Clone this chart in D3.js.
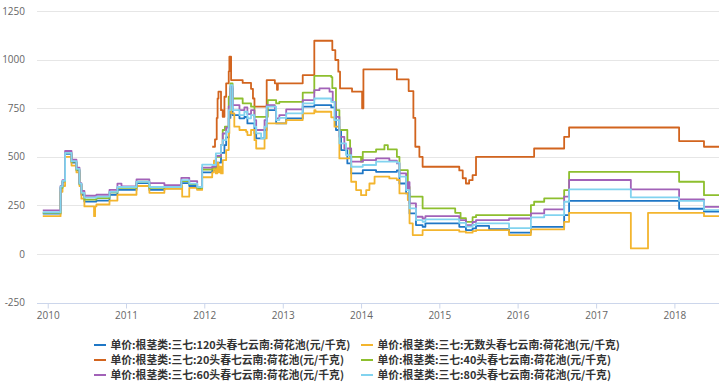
<!DOCTYPE html>
<html><head><meta charset="utf-8">
<script src="https://cdn.jsdelivr.net/npm/d3@7"></script>
<style>html,body{margin:0;padding:0;background:#fff;}svg{display:block;}</style>
</head><body>
<svg id="chart" width="719" height="383"></svg>
<script>
const seriesNames = [
  "单价:根茎类:三七:120头春七云南:荷花池(元/千克)",
  "单价:根茎类:三七:无数头春七云南:荷花池(元/千克)",
  "单价:根茎类:三七:20头春七云南:荷花池(元/千克)",
  "单价:根茎类:三七:40头春七云南:荷花池(元/千克)",
  "单价:根茎类:三七:60头春七云南:荷花池(元/千克)",
  "单价:根茎类:三七:80头春七云南:荷花池(元/千克)"
];
const seriesColors = ["#1f77c6","#f3b52e","#d2641e","#8dbf2e","#a262b8","#82d3ef"];
const yTicks = [-250,0,250,500,750,1000,1250];
const xTickYears = [2010,2011,2012,2013,2014,2015,2016,2017,2018];
const xDomain = ["2009-11-12","2018-07-28"];

const s120 = [["2009-12-09",208],["2010-03-02",345],["2010-03-11",372],["2010-03-23",515],["2010-04-22",470],["2010-05-15",430],["2010-05-29",360],["2010-06-07",305],["2010-06-21",270],["2010-08-16",275],["2010-10-16",305],["2010-11-22",330],["2011-02-19",365],["2011-04-20",330],["2011-06-29",338],["2011-09-16",365],["2011-10-23",350],["2011-11-29",335],["2011-12-22",420],["2012-02-07",430],["2012-02-24",470],["2012-03-19",520],["2012-04-04",560],["2012-04-12",600],["2012-04-24",700],["2012-05-02",852],["2012-05-12",715],["2012-06-13",698],["2012-07-06",705],["2012-07-20",672],["2012-08-22",621],["2012-08-30",595],["2012-10-08",638],["2012-10-18",740],["2012-12-01",672],["2013-01-17",698],["2013-04-04",758],["2013-05-28",766],["2013-08-15",754],["2013-09-06",638],["2013-09-30",535],["2013-10-29",466],["2013-11-16",415],["2014-01-09",432],["2014-03-12",423],["2014-06-17",430],["2014-06-29",363],["2014-07-30",312],["2014-08-15",209],["2014-09-14",149],["2014-10-15",140],["2014-10-28",158],["2015-04-04",140],["2015-05-05",123],["2015-06-05",132],["2015-06-21",145],["2015-08-21",128],["2015-11-22",110],["2016-03-03",140],["2016-08-05",200],["2016-08-28",274],["2018-01-23",233],["2018-05-19",218],["2018-07-28",218]];
const sWushu = [["2009-12-09",195],["2010-03-02",320],["2010-03-11",350],["2010-03-23",500],["2010-04-22",455],["2010-05-15",420],["2010-05-29",350],["2010-06-07",285],["2010-06-21",245],["2010-08-05",195],["2010-08-10",245],["2010-08-16",255],["2010-10-16",275],["2010-11-22",305],["2011-02-19",350],["2011-04-20",315],["2011-06-29",335],["2011-09-16",350],["2011-09-20",295],["2011-10-23",340],["2011-11-29",330],["2011-12-22",395],["2012-02-07",420],["2012-02-15",480],["2012-02-24",415],["2012-03-01",470],["2012-03-07",420],["2012-03-12",450],["2012-03-19",415],["2012-03-27",483],["2012-04-12",535],["2012-04-24",621],["2012-04-27",758],["2012-05-02",835],["2012-05-06",724],["2012-05-20",655],["2012-06-13",638],["2012-07-14",629],["2012-07-20",612],["2012-08-06",638],["2012-08-22",586],["2012-08-30",543],["2012-10-08",595],["2012-10-18",672],["2013-01-17",689],["2013-04-04",724],["2013-05-28",740],["2013-06-03",732],["2013-08-15",703],["2013-08-30",655],["2013-09-22",492],["2013-11-16",372],["2013-12-09",329],["2014-01-01",303],["2014-01-25",329],["2014-02-09",363],["2014-03-05",398],["2014-05-13",389],["2014-06-17",381],["2014-06-29",312],["2014-08-07",278],["2014-08-15",158],["2014-08-30",98],["2014-10-15",123],["2015-04-04",115],["2015-05-05",110],["2015-06-05",118],["2015-06-21",123],["2015-11-22",98],["2016-03-03",127],["2016-08-05",166],["2016-08-28",212],["2017-06-12",29],["2017-08-31",212],["2018-05-19",195],["2018-07-28",195]];
const s20 = [["2012-02-07",552],["2012-02-20",590],["2012-02-28",700],["2012-03-03",800],["2012-03-07",835],["2012-03-19",740],["2012-03-27",706],["2012-04-04",809],["2012-04-12",878],["2012-04-24",940],["2012-04-27",1015],["2012-05-05",895],["2012-06-28",880],["2012-08-06",850],["2012-08-15",800],["2012-08-22",758],["2012-10-18",895],["2012-11-25",878],["2012-12-05",845],["2012-12-09",878],["2013-04-04",920],["2013-05-28",1097],["2013-08-20",1049],["2013-09-03",998],["2013-09-17",938],["2013-09-25",852],["2013-11-20",835],["2014-01-06",750],["2014-01-12",950],["2014-06-17",898],["2014-08-11",838],["2014-09-02",700],["2014-09-11",552],["2014-09-30",500],["2014-10-15",449],["2015-04-04",430],["2015-04-20",390],["2015-05-05",363],["2015-05-20",380],["2015-06-05",406],["2015-06-21",500],["2016-03-18",543],["2016-08-05",603],["2016-08-28",651],["2018-01-23",581],["2018-05-19",552],["2018-07-28",552]];
const s40 = [["2009-12-09",212],["2010-03-02",340],["2010-03-11",375],["2010-03-23",520],["2010-04-22",475],["2010-05-15",435],["2010-05-29",360],["2010-06-07",315],["2010-06-21",280],["2010-08-16",288],["2010-10-16",318],["2010-11-22",340],["2011-02-19",372],["2011-04-20",340],["2011-06-29",345],["2011-09-16",375],["2011-10-23",360],["2011-11-29",340],["2011-12-22",435],["2012-02-07",445],["2012-02-24",500],["2012-03-19",560],["2012-03-27",638],["2012-04-06",655],["2012-04-24",810],["2012-05-02",878],["2012-05-12",800],["2012-06-28",775],["2012-08-06",758],["2012-08-22",706],["2012-10-23",792],["2012-12-01",775],["2012-12-16",783],["2013-04-04",830],["2013-05-28",916],["2013-08-15",910],["2013-08-20",853],["2013-09-06",740],["2013-09-22",638],["2013-10-29",586],["2013-11-11",500],["2014-01-01",475],["2014-01-09",526],["2014-03-12",538],["2014-04-20",560],["2014-05-06",538],["2014-06-17",500],["2014-06-29",432],["2014-08-07",346],["2014-08-15",295],["2014-10-15",235],["2015-03-16",212],["2015-04-10",185],["2015-05-05",166],["2015-06-05",190],["2015-06-21",200],["2016-03-03",252],["2016-03-18",269],["2016-05-04",286],["2016-08-05",329],["2016-08-28",423],["2018-01-23",372],["2018-05-19",303],["2018-07-28",303]];
const s60 = [["2009-12-09",225],["2010-03-02",350],["2010-03-11",380],["2010-03-23",530],["2010-04-22",485],["2010-05-15",445],["2010-05-29",365],["2010-06-07",325],["2010-06-21",300],["2010-08-16",305],["2010-10-16",330],["2010-11-22",362],["2010-12-11",348],["2011-02-19",384],["2011-04-20",365],["2011-06-29",355],["2011-09-16",392],["2011-10-23",375],["2011-11-29",345],["2011-12-22",445],["2012-02-07",450],["2012-02-24",505],["2012-03-19",560],["2012-03-27",620],["2012-04-12",650],["2012-04-24",760],["2012-05-02",861],["2012-05-12",766],["2012-06-13",740],["2012-07-06",754],["2012-07-20",720],["2012-08-06",740],["2012-08-22",689],["2012-08-30",638],["2012-10-08",689],["2012-10-18",766],["2012-11-25",750],["2012-12-01",698],["2012-12-16",715],["2013-01-17",744],["2013-04-04",792],["2013-05-28",843],["2013-06-21",852],["2013-08-07",835],["2013-08-22",783],["2013-09-03",706],["2013-09-22",603],["2013-10-15",543],["2013-11-16",475],["2014-01-09",483],["2014-03-12",492],["2014-05-13",480],["2014-06-17",466],["2014-06-29",415],["2014-07-30",338],["2014-08-07",370],["2014-08-15",261],["2014-09-14",192],["2014-10-15",183],["2014-10-28",195],["2015-04-04",175],["2015-05-05",149],["2015-06-05",165],["2015-06-21",175],["2015-11-22",183],["2016-03-03",209],["2016-05-04",230],["2016-08-05",295],["2016-08-28",381],["2017-06-12",333],["2018-01-23",281],["2018-05-19",243],["2018-07-28",243]];
const s80 = [["2009-12-09",215],["2010-03-02",348],["2010-03-11",376],["2010-03-23",520],["2010-04-22",478],["2010-05-15",438],["2010-05-29",362],["2010-06-07",315],["2010-06-21",290],["2010-08-16",295],["2010-10-16",320],["2010-11-22",345],["2011-02-19",372],["2011-04-20",345],["2011-06-29",345],["2011-09-16",380],["2011-10-23",362],["2011-11-29",345],["2011-12-22",460],["2012-02-07",458],["2012-02-24",518],["2012-03-19",560],["2012-03-27",586],["2012-04-12",629],["2012-04-24",740],["2012-05-02",869],["2012-05-12",740],["2012-06-13",715],["2012-07-06",732],["2012-07-20",698],["2012-08-06",715],["2012-08-22",655],["2012-08-30",621],["2012-09-22",595],["2012-10-08",655],["2012-10-18",758],["2012-12-01",689],["2012-12-16",700],["2013-01-17",724],["2013-04-04",775],["2013-05-28",800],["2013-08-15",783],["2013-08-30",689],["2013-09-22",569],["2013-10-23",509],["2013-11-16",449],["2014-01-09",458],["2014-03-12",475],["2014-06-17",470],["2014-06-29",398],["2014-07-30",329],["2014-08-15",235],["2014-09-14",175],["2014-10-15",166],["2014-10-28",178],["2015-04-04",160],["2015-05-05",141],["2015-06-05",150],["2015-06-21",158],["2015-11-22",134],["2016-03-03",189],["2016-05-04",200],["2016-08-05",269],["2016-08-28",333],["2017-06-12",292],["2018-01-23",274],["2018-05-19",226],["2018-07-28",226]];

const allSeries = [s120, sWushu, s20, s40, s60, s80];

const svg = d3.select("#chart");
const plot = {left:37, right:719, top:11, bottom:302.7};
const parse = d3.utcParse("%Y-%m-%d");
const x = d3.scaleUtc().domain(xDomain.map(parse)).range([plot.left, plot.right]);
const y = d3.scaleLinear().domain([-250,1250]).range([plot.bottom, plot.top]);

// gridlines
svg.append("g").selectAll("line").data(yTicks.filter(t=>t!==-250)).join("line")
  .attr("x1",plot.left).attr("x2",plot.right)
  .attr("y1",d=>Math.round(y(d))+0.5).attr("y2",d=>Math.round(y(d))+0.5)
  .attr("stroke","#e6e6e6").attr("stroke-width",1);

// y labels
svg.append("g").selectAll("text").data(yTicks).join("text")
  .attr("x",25).attr("y",d=>y(d)).attr("dy","0.35em")
  .attr("text-anchor","end")
  .attr("font-family","'Open Sans', sans-serif").attr("font-size","10px").attr("fill","#666")
  .text(d=>d);

// x axis
const xAxis = d3.axisBottom(x)
  .tickValues(xTickYears.map(yr=>new Date(Date.UTC(yr,0,1))))
  .tickFormat(d3.utcFormat("%Y")).tickSize(5).tickPadding(3);
const gx = svg.append("g").attr("transform",`translate(0,${Math.round(plot.bottom)+0.5})`).call(xAxis);
gx.select(".domain").attr("stroke","#ccd6eb").attr("d",`M${plot.left},0H${plot.right}`);
gx.selectAll(".tick line").attr("stroke","#ccd6eb");
gx.selectAll(".tick text").attr("font-family","'Open Sans', sans-serif").attr("font-size","10px").attr("fill","#666");

// clip
svg.append("clipPath").attr("id","clip").append("rect")
  .attr("x",plot.left).attr("y",0).attr("width",plot.right-plot.left).attr("height",plot.bottom);

const line = d3.line().curve(d3.curveStepAfter)
  .x(d=>x(parse(d[0]))).y(d=>y(d[1]));

svg.append("g").attr("clip-path","url(#clip)").selectAll("path").data(allSeries).join("path")
  .attr("d",line).attr("fill","none")
  .attr("stroke",(d,i)=>seriesColors[i]).attr("stroke-width",1.8)
  .attr("stroke-linejoin","round");

// legend
const colX = [94, 361], rowY = [345, 360, 375];
const lg = svg.append("g").selectAll("g").data(seriesNames).join("g")
  .attr("transform",(d,i)=>`translate(${colX[i%2]},${rowY[Math.floor(i/2)]})`);
lg.append("line").attr("x1",0).attr("x2",12).attr("y1",0).attr("y2",0)
  .attr("stroke",(d,i)=>seriesColors[i]).attr("stroke-width",2);
lg.append("text").attr("x",16.5).attr("y",0).attr("dy","0.35em")
  .attr("font-family","'Noto Sans CJK SC', sans-serif").attr("font-size","10.8px")
  .attr("font-weight","bold").attr("fill","#333").text(d=>d);
</script>
</body></html>
